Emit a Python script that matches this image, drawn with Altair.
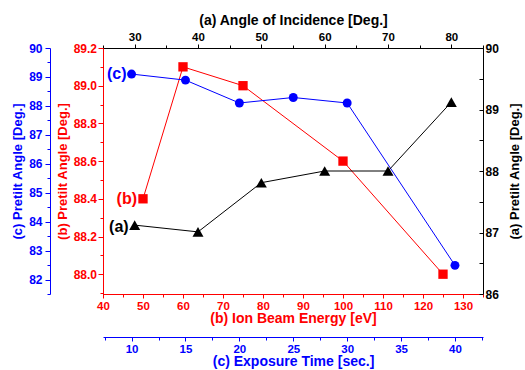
import altair as alt
import pandas as pd

# ---------------- data ----------------
angle_a = [30, 40, 50, 60, 70, 80]
pretilt_a = [87.12, 87.01, 87.81, 88.0, 88.0, 89.12]
labels_a = ["(a)", "", "", "", "", ""]

energy_b = [50, 60, 75, 100, 125]
pretilt_b = [88.40, 89.10, 89.00, 88.60, 88.00]
labels_b = ["(b)", "", "", "", ""]

time_c = [10, 15, 20, 25, 30, 40]
pretilt_c = [89.10, 88.89, 88.10, 88.29, 88.10, 82.49]
labels_c = ["(c)", "", "", "", "", ""]

# axis tick values (majors + minors)
ticks_angle = [25, 30, 35, 40, 45, 50, 55, 60, 65, 70, 75, 80, 85]
ticks_energy = [40, 45, 50, 55, 60, 65, 70, 75, 80, 85, 90, 95, 100, 105, 110, 115, 120, 125, 130, 135]
ticks_time = [7.5, 10, 12.5, 15, 17.5, 20, 22.5, 25, 27.5, 30, 32.5, 35, 37.5, 40, 42.5]
ticks_red_y = [87.9, 88.0, 88.1, 88.2, 88.3, 88.4, 88.5, 88.6, 88.7, 88.8, 88.9, 89.0, 89.1, 89.2]
ticks_blue_y = [81.5, 82, 82.5, 83, 83.5, 84, 84.5, 85, 85.5, 86, 86.5, 87, 87.5, 88, 88.5, 89, 89.5, 90]
ticks_right_y = [86, 86.5, 87, 87.5, 88, 88.5, 89, 89.5, 90]

FONT = "Liberation Sans"
RED = "#FF0000"
BLUE = "#0000FF"
BLACK = "#000000"

df_a = pd.DataFrame({"angle": angle_a, "pretilt": pretilt_a, "label": labels_a})
df_b = pd.DataFrame({"energy": energy_b, "pretilt": pretilt_b, "label": labels_b})
df_c = pd.DataFrame({"time": time_c, "pretilt": pretilt_c, "label": labels_c})

INT_LABEL = "format(datum.value, 'd')"


def ax(color, title, values, major_test, label_expr, orient, offset=0, major=5, minor=3,
       label_size=12, title_size=13, label_pad=2, title_pad=3, **kw):
    return alt.Axis(
        orient=orient, offset=offset, title=title, values=values,
        labelExpr=label_expr, grid=False,
        domainColor=color, tickColor=color, labelColor=color, titleColor=color,
        domainWidth=1, tickWidth=1,
        tickSize={"condition": {"test": major_test, "value": major}, "value": minor},
        labelFont=FONT, labelFontSize=label_size, labelFontWeight="bold",
        titleFont=FONT, titleFontSize=title_size, titleFontWeight="bold",
        labelPadding=label_pad, titlePadding=title_pad,
        labelOverlap=False, labelFlush=False, labelBound=False, **kw)


# ----- (b) red: ion beam energy vs pretilt -----
xb = alt.X("energy:Q", scale=alt.Scale(domain=[40, 135], nice=False, zero=False),
           axis=ax(RED, "(b) Ion Beam Energy [eV]", ticks_energy,
                   "datum.value % 10 === 0",
                   "datum.value % 10 === 0 ? " + INT_LABEL + " : ''",
                   "bottom", major=4, minor=3, label_size=11.5, title_size=14,
                   label_pad=2, title_pad=0))
yb = alt.Y("pretilt:Q", scale=alt.Scale(domain=[87.895, 89.2], nice=False, zero=False),
           axis=ax(RED, "(b) Pretilt Angle [Deg.]", ticks_red_y,
                   "round(datum.value*10) % 2 === 0",
                   "round(datum.value*10) % 2 === 0 ? format(datum.value, '.1f') : ''",
                   "left", label_pad=1.5, title_pad=4))

# ----- (c) blue: exposure time vs pretilt -----
xc = alt.X("time:Q", scale=alt.Scale(domain=[7.35, 42.6], nice=False, zero=False),
           axis=ax(BLUE, "(c) Exposure Time [sec.]", ticks_time,
                   "datum.value % 5 === 0",
                   "datum.value % 5 === 0 ? " + INT_LABEL + " : ''",
                   "bottom", offset=43, major=4, minor=3, label_size=11.5, title_size=14,
                   label_pad=2, title_pad=0))
yc = alt.Y("pretilt:Q", scale=alt.Scale(domain=[81.5, 90], nice=False, zero=False),
           axis=ax(BLUE, "(c) Pretilt Angle [Deg.]", ticks_blue_y,
                   "datum.value % 1 === 0",
                   "datum.value % 1 === 0 ? " + INT_LABEL + " : ''",
                   "left", offset=53, label_pad=3, title_pad=4))

# ----- (a) black: angle of incidence vs pretilt -----
xa = alt.X("angle:Q", scale=alt.Scale(domain=[25, 85], nice=False, zero=False),
           axis=ax(BLACK, "(a) Angle of Incidence [Deg.]", ticks_angle,
                   "datum.value % 10 === 0",
                   "datum.value % 10 === 0 ? " + INT_LABEL + " : ''",
                   "top", major=4, minor=3, label_size=11.5, title_size=14,
                   label_pad=2, title_pad=4))
ya = alt.Y("pretilt:Q", scale=alt.Scale(domain=[86, 90], nice=False, zero=False),
           axis=ax(BLACK, "(a) Pretilt Angle [Deg.]", ticks_right_y,
                   "datum.value % 1 === 0",
                   "datum.value % 1 === 0 ? " + INT_LABEL + " : ''",
                   "right", offset=-4, major=4, minor=4, label_pad=2, title_pad=10,
                   domain=False, titleAngle=270, titleBaseline="top"))


def series(df, x, y, color, shape, size, dx, dy):
    base = alt.Chart(df).encode(x=x, y=y)
    line = base.mark_line(color=color, strokeWidth=1)
    pts = base.mark_point(shape=shape, filled=True, size=size, color=color, opacity=1)
    txt = base.mark_text(align="right", baseline="middle", dx=dx, dy=dy, font=FONT,
                         fontSize=16, fontWeight="bold", color=color).encode(text="label:N")
    return alt.layer(line, pts, txt)


layer_b = series(df_b, xb, yb, RED, "square", 87, -6, 0)
layer_c = series(df_c, xc, yc, BLUE, "circle", 80, -5, 0)
layer_a = series(df_a, xa, ya, BLACK, "triangle-up", 121, -6, 2)

chart = (
    alt.layer(layer_b, layer_c, layer_a)
    .resolve_scale(x="independent", y="independent")
    .properties(width=380, height=246,
                padding={"left": 103, "top": 48, "right": 42, "bottom": 76},
                autosize=alt.AutoSizeParams(type="none"),
                background="white")
    .configure_view(stroke=BLACK, strokeWidth=1)
)

chart.save("out.html", embed_options={"renderer": "svg", "actions": False})
